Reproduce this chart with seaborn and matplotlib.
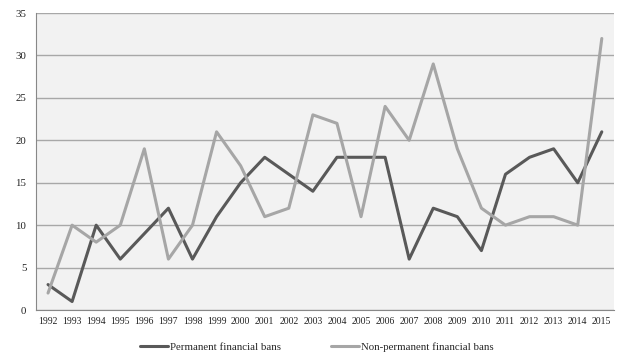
import numpy as np
import pandas as pd
import matplotlib.pyplot as plt
import seaborn as sns

years = list(range(1992, 2016))
permanent = [3, 1, 10, 6, 9, 12, 6, 11, 15, 18, 16, 14, 18, 18, 18, 6, 12, 11, 7, 16, 18, 19, 15, 21]
non_permanent = [2, 10, 8, 10, 19, 6, 10, 21, 17, 11, 12, 23, 22, 11, 24, 20, 29, 19, 12, 10, 11, 11, 10, 32]
series_names = ["Permanent financial bans", "Non-permanent financial bans"]

df = pd.DataFrame({
    "pos": list(range(len(years))) * 2,
    "value": permanent + non_permanent,
    "series": [series_names[0]] * len(years) + [series_names[1]] * len(years),
})

sns.set_theme(style="white")
plt.rcParams["font.family"] = ["Liberation Serif", "DejaVu Serif"]

fig = plt.figure(figsize=(6.27, 3.62), dpi=100)
ax = fig.add_axes([0.0574, 0.1436, 0.9216, 0.8204])
ax.set_facecolor("#f2f2f2")

sns.lineplot(data=df, x="pos", y="value", hue="series", palette=["#595959", "#a6a6a6"],
             linewidth=2.2, ax=ax, legend=True)

ax.set_xlim(-0.5, len(years) - 0.5)
ax.set_ylim(0, 35)
ax.set_yticks(range(0, 36, 5))
ax.set_xticks(range(len(years)))
ax.set_xticklabels([str(y) for y in years])
ax.set_xticks(np.arange(-0.5, len(years), 1), minor=True)
ax.tick_params(axis="x", which="major", length=0, labelsize=7, colors="#222222", pad=5)
ax.tick_params(axis="x", which="minor", length=4, color="#888888", direction="out")
ax.tick_params(axis="y", length=4, color="#888888", labelsize=7.8, colors="#222222", direction="out", pad=3)
ax.yaxis.grid(True, color="#a8a8a8", linewidth=1)
ax.set_axisbelow(True)
for s in ["top", "right"]:
    ax.spines[s].set_visible(False)
for s in ["left", "bottom"]:
    ax.spines[s].set_color("#888888")
    ax.spines[s].set_linewidth(0.8)
ax.set_xlabel("")
ax.set_ylabel("")

handles, labels = ax.get_legend_handles_labels()
ax.get_legend().remove()
fig.legend(handles, labels, loc="center", bbox_to_anchor=(0.505, 0.042), ncol=2, frameon=False,
           fontsize=7.8, handlelength=2.6, columnspacing=4.6, handletextpad=0.15)

fig.savefig("out.png", dpi=100)
